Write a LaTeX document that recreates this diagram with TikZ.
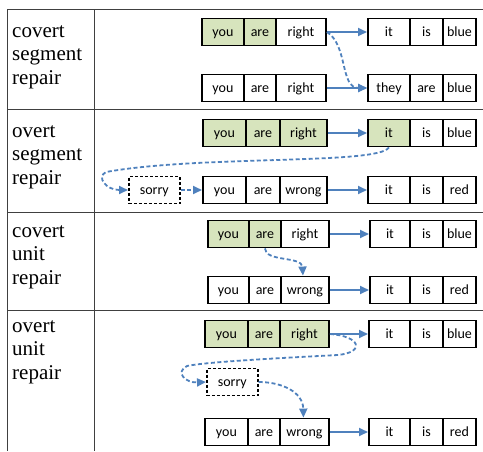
\documentclass[tikz,border=0pt]{standalone}
\usepackage{fontspec}
\setmainfont{Liberation Serif}
\newfontfamily\cellfont{Carlito}
\usetikzlibrary{arrows.meta}
\definecolor{boxgreen}{HTML}{D7E4BD}
\definecolor{arrblue}{HTML}{4F81BD}
\begin{document}
\begin{tikzpicture}[x=1pt,y=-1pt,
  cell/.style={draw, line width=1.9pt, inner sep=0pt, minimum height=27pt, anchor=west,
    text height=10.5pt, text depth=1.5pt,
    font=\cellfont\fontsize{14}{16}\selectfont},
  hl/.style={fill=boxgreen},
  sorrybox/.style={draw, dash pattern=on 3pt off 2pt, line width=1.6pt, inner sep=0pt,
    minimum height=27pt, minimum width=51pt, anchor=west,
    text height=10.5pt, text depth=1.5pt, font=\cellfont\fontsize{14}{16}\selectfont},
  arr/.style={draw=arrblue, line width=1.8pt, -{Triangle[length=9pt,width=8pt]}},
  darr/.style={arr, dash pattern=on 4pt off 2.5pt},
  grid/.style={draw=black!75, line width=1pt},
  lbl/.style={anchor=north west, inner sep=0pt, align=left, font=\rmfamily\fontsize{21}{23.5}\selectfont}
]
\useasboundingbox (0,0) rectangle (483,451);
% table
\draw[grid] (483,9) -- (7,9) -- (7,451);
\draw[grid] (94,9) -- (94,451);
\draw[grid] (7,109) -- (483,109);
\draw[grid] (7,212) -- (483,212);
\draw[grid] (7,310) -- (483,310);
% labels
\node[lbl] (l1) at (12,20.5) {\strut covert\\segment\\repair};
\node[lbl] (l2) at (12,120.5) {\strut overt\\segment\\repair};
\node[lbl] (l3) at (12,220.5) {\strut covert\\unit\\repair};
\node[lbl] (l4) at (12,315.5) {\strut overt\\unit\\repair};

% row 1
\node[cell,hl,minimum width=42pt] (r1a1) at (201,32) {you};
\node[cell,hl,minimum width=32pt] (r1a2) at (243,32) {are};
\node[cell,minimum width=50pt] (r1a3) at (275,32) {right};
\node[cell,minimum width=42pt] (r1b1) at (367,32) {it};
\node[cell,minimum width=33pt] (r1b2) at (409,32) {is};
\node[cell,minimum width=33pt] (r1b3) at (442,32) {blue};
\node[cell,minimum width=42pt] (r1c1) at (201,88) {you};
\node[cell,minimum width=32pt] (r1c2) at (243,88) {are};
\node[cell,minimum width=50pt] (r1c3) at (275,88) {right};
\node[cell,minimum width=42pt] (r1d1) at (367,88) {they};
\node[cell,minimum width=33pt] (r1d2) at (409,88) {are};
\node[cell,minimum width=33pt] (r1d3) at (442,88) {blue};
\draw[arr] (r1a3.east) -- (r1b1.west);
\draw[arr] (r1c3.east) -- (r1d1.west);
\draw[darr] (r1a3.east) .. controls (348,45) and (340,88) .. (r1d1.west);

% row 2
\node[cell,hl,minimum width=43pt] (r2a1) at (202,133) {you};
\node[cell,hl,minimum width=34pt] (r2a2) at (245,133) {are};
\node[cell,hl,minimum width=47pt] (r2a3) at (279,133) {right};
\node[cell,hl,minimum width=42pt] (r2b1) at (367,133) {it};
\node[cell,minimum width=33pt] (r2b2) at (409,133) {is};
\node[cell,minimum width=33pt] (r2b3) at (442,133) {blue};
\node[sorrybox] (r2s) at (128,190) {sorry};
\node[cell,minimum width=43pt] (r2c1) at (202,190) {you};
\node[cell,minimum width=34pt] (r2c2) at (245,190) {are};
\node[cell,minimum width=47pt] (r2c3) at (279,190) {wrong};
\node[cell,minimum width=42pt] (r2d1) at (367,190) {it};
\node[cell,minimum width=33pt] (r2d2) at (409,190) {is};
\node[cell,minimum width=33pt] (r2d3) at (442,190) {red};
\draw[arr] (r2a3.east) -- (r2b1.west);
\draw[arr] (r2c3.east) -- (r2d1.west);
\draw[darr] (r2s.east) -- (r2c1.west);
\coordinate (r2turn) at (106,172);
\draw[darr] (r2b1.south) .. controls (378,165) and (200,155) .. (r2turn)
  .. controls (96,177) and (106,190) .. (r2s.west);

% row 3
\node[cell,hl,minimum width=41pt] (r3a1) at (207,234) {you};
\node[cell,hl,minimum width=32pt] (r3a2) at (248,234) {are};
\node[cell,minimum width=48pt] (r3a3) at (280,234) {right};
\node[cell,minimum width=40pt] (r3b1) at (369,234) {it};
\node[cell,minimum width=33pt] (r3b2) at (409,234) {is};
\node[cell,minimum width=33pt] (r3b3) at (442,234) {blue};
\node[cell,minimum width=41pt] (r3c1) at (207,290) {you};
\node[cell,minimum width=32pt] (r3c2) at (248,290) {are};
\node[cell,minimum width=48pt] (r3c3) at (280,290) {wrong};
\node[cell,minimum width=40pt] (r3d1) at (369,290) {it};
\node[cell,minimum width=33pt] (r3d2) at (409,290) {is};
\node[cell,minimum width=33pt] (r3d3) at (442,290) {red};
\draw[arr] (r3a3.east) -- (r3b1.west);
\draw[arr] (r3c3.east) -- (r3d1.west);
\draw[darr] (r3a2.south) .. controls (265,262) and (302,256) .. ([xshift=-2pt]r3c3.north);

% row 4
\node[cell,hl,minimum width=43pt] (r4a1) at (204,334) {you};
\node[cell,hl,minimum width=32pt] (r4a2) at (247,334) {are};
\node[cell,hl,minimum width=49pt] (r4a3) at (279,334) {right};
\node[cell,minimum width=41pt] (r4b1) at (368,334) {it};
\node[cell,minimum width=33pt] (r4b2) at (409,334) {is};
\node[cell,minimum width=33pt] (r4b3) at (442,334) {blue};
\node[sorrybox] (r4s) at (206,382) {sorry};
\node[cell,minimum width=43pt] (r4c1) at (204,432) {you};
\node[cell,minimum width=32pt] (r4c2) at (247,432) {are};
\node[cell,minimum width=49pt] (r4c3) at (279,432) {wrong};
\node[cell,minimum width=41pt] (r4d1) at (368,432) {it};
\node[cell,minimum width=33pt] (r4d2) at (409,432) {is};
\node[cell,minimum width=33pt] (r4d3) at (442,432) {red};
\draw[arr] (r4a3.east) -- (r4b1.west);
\draw[arr] (r4c3.east) -- (r4d1.west);
\coordinate (r4p) at (338,355);
\coordinate (r4q) at (187,366);
\draw[darr] (r4a3.east) .. controls (360,336) and (366,352) .. (r4p)
  .. controls (280,358) and (205,362) .. (r4q)
  .. controls (175,372) and (185,383) .. (r4s.west);
\draw[darr] (r4s.east) .. controls (282,382) and (303,392) .. ([xshift=-1pt]r4c3.north);
\end{tikzpicture}
\end{document}
